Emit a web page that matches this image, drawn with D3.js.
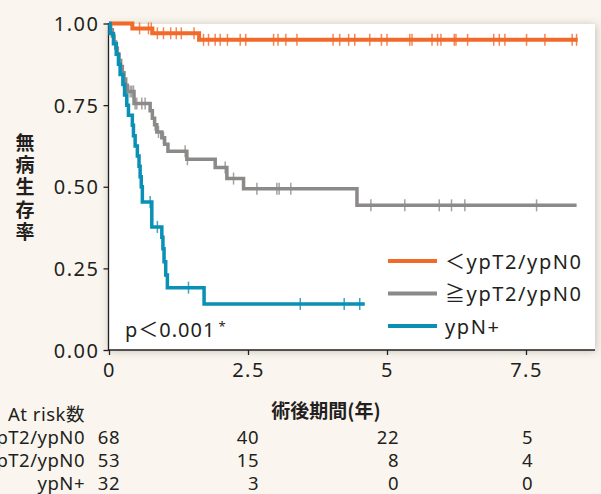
<!DOCTYPE html>
<html>
<head>
<meta charset="utf-8">
<script src="https://cdn.jsdelivr.net/npm/d3@7"></script>
<style>
  body { margin: 0; background: #faf6ef; }
  svg { display: block; }
  text { fill: #231f20; font-family: "Noto Sans", "Noto Sans CJK JP", sans-serif; }
  .cjk { font-family: "Noto Sans CJK JP", sans-serif; }
</style>
</head>
<body>
<svg width="601" height="494"></svg>
<script>
// survival steps: [years, survival]
const orangeSteps = [[0, 1], [0.42, 0.985], [0.78, 0.970], [1.62, 0.950], [8.43, 0.950]];
const graySteps = [[0, 1], [0.03, 0.981], [0.06, 0.962], [0.09, 0.943], [0.12, 0.925], [0.15, 0.906],
    [0.18, 0.887], [0.21, 0.868], [0.24, 0.849], [0.27, 0.830], [0.30, 0.811], [0.33, 0.792],
    [0.45, 0.755], [0.74, 0.733], [0.78, 0.710], [0.82, 0.690], [0.86, 0.668], [0.95, 0.650],
    [1.00, 0.630], [1.06, 0.609], [1.40, 0.584], [1.91, 0.559], [2.12, 0.525], [2.42, 0.494],
    [4.46, 0.443], [8.41, 0.443]];
const blueSteps = [[0, 1], [0.02, 0.969], [0.08, 0.938], [0.13, 0.906], [0.17, 0.875], [0.20, 0.844],
    [0.25, 0.813], [0.28, 0.781], [0.32, 0.750], [0.35, 0.719], [0.42, 0.688], [0.44, 0.656],
    [0.47, 0.625], [0.51, 0.594], [0.54, 0.563], [0.56, 0.531], [0.58, 0.500], [0.60, 0.453],
    [0.77, 0.377], [0.95, 0.345], [0.97, 0.310], [0.99, 0.270], [1.02, 0.230], [1.05, 0.191],
    [1.71, 0.141], [4.6, 0.141]];

// censored times (years)
const orangeCensor = [0.55, 0.71, 0.76, 0.87, 0.98, 1.11, 1.21, 1.30, 1.53, 1.70, 1.79, 1.91, 2.00,
    2.13, 2.36, 2.46, 2.96, 3.04, 3.18, 3.38, 4.03, 4.15, 4.31, 4.42, 4.69, 4.90, 5.00, 5.41, 5.45,
    5.81, 5.91, 5.97, 6.21, 6.24, 6.45, 6.92, 7.02, 7.12, 7.51, 7.84, 8.33, 8.41];
const grayCensor = [0.38, 0.41, 0.44, 0.47, 0.50, 0.59, 0.65, 0.83, 0.89, 0.98, 1.37, 1.41, 2.09,
    2.24, 2.66, 3.02, 3.06, 3.27, 4.71, 5.32, 5.94, 6.16, 6.40, 7.69];
const blueCensor = [0.74, 0.87, 1.43, 3.44, 4.23, 4.51];

const groupNames = ["＜ypT2/ypN0", "≧ypT2/ypN0", "ypN+"];
const groupColors = ["#f26a2a", "#8c8a88", "#0a8fb5"];

const xTicks = [0, 2.5, 5, 7.5];
const xTickLabels = ["0", "2.5", "5", "7.5"];
const yTicks = [0, 0.25, 0.5, 0.75, 1];

const riskTimes = [0, 2.5, 5, 7.5];
const riskOrange = [68, 40, 22, 5];
const riskGray = [53, 15, 8, 4];
const riskBlue = [32, 3, 0, 0];

const svg = d3.select("svg");

const x = d3.scaleLinear().domain([0, 7.5]).range([109, 526]);
const y = d3.scaleLinear().domain([0, 1]).range([350, 23.5]);

// panel with soft shadow
const defs = svg.append("defs");
const f = defs.append("filter").attr("id", "shadow")
    .attr("x", "-5%").attr("y", "-10%").attr("width", "110%").attr("height", "120%");
f.append("feDropShadow").attr("dx", 1).attr("dy", 1)
    .attr("stdDeviation", 4).attr("flood-color", "#5a5040").attr("flood-opacity", 0.35);

svg.append("rect")
    .attr("x", 108).attr("y", 24).attr("width", 487).attr("height", 326)
    .attr("fill", "#fff").attr("filter", "url(#shadow)");

// axes
const yAxis = svg.append("g").attr("transform", "translate(108.5,0)")
    .call(d3.axisLeft(y).tickValues(yTicks).tickFormat(d3.format(".2f")).tickSize(5).tickSizeOuter(0));
const xAxis = svg.append("g").attr("transform", "translate(0,350)")
    .call(d3.axisBottom(x).tickValues(xTicks).tickFormat((d, i) => xTickLabels[i]).tickSize(5).tickSizeOuter(0));

[yAxis, xAxis].forEach(g => {
    g.select(".domain").remove();
    g.selectAll("line").attr("stroke", "#231f20").attr("stroke-width", 1.3);
    g.selectAll("text").attr("fill", "#231f20").style("font-size", "20px")
        .style("font-family", "'Noto Sans', sans-serif").style("letter-spacing", "1.5px");
});
yAxis.selectAll("text").attr("x", -9).attr("dy", "0.36em");
xAxis.selectAll("text").attr("y", 11).attr("dy", "0.8em");

svg.append("line").attr("x1", 108.5).attr("x2", 108.5).attr("y1", 23).attr("y2", 350.5)
    .attr("stroke", "#231f20").attr("stroke-width", 1.3);
svg.append("line").attr("x1", 108).attr("x2", 595).attr("y1", 350).attr("y2", 350)
    .attr("stroke", "#231f20").attr("stroke-width", 1.3);

// curves
const line = d3.line().x(d => x(d[0])).y(d => y(d[1])).curve(d3.curveStepAfter);

function survAt(steps, t) {
    let v = steps[0][1];
    for (const s of steps) if (s[0] <= t) v = s[1];
    return v;
}

const series = [
    { steps: orangeSteps, censor: orangeCensor, color: groupColors[0], w: 4 },
    { steps: graySteps, censor: grayCensor, color: groupColors[1], w: 3.5 },
    { steps: blueSteps, censor: blueCensor, color: groupColors[2], w: 3.5 }
];

// draw gray first, then orange, blue on top
[series[1], series[0], series[2]].forEach(s => {
    const g = svg.append("g");
    g.append("path").attr("d", line(s.steps))
        .attr("fill", "none").attr("stroke", s.color).attr("stroke-width", s.w);
    g.selectAll("line").data(s.censor).join("line")
        .attr("x1", d => x(d)).attr("x2", d => x(d))
        .attr("y1", d => y(survAt(s.steps, d)) - 6)
        .attr("y2", d => y(survAt(s.steps, d)) + 6)
        .attr("stroke", s.color).attr("stroke-width", 1.5).attr("opacity", 0.8);
});

// legend
const leg = svg.append("g");
groupNames.forEach((name, i) => {
    const ly = 261 + i * 32.5;
    leg.append("line").attr("x1", 388).attr("x2", 437).attr("y1", ly).attr("y2", ly)
        .attr("stroke", groupColors[i]).attr("stroke-width", 4);
    leg.append("text").attr("x", 445).attr("y", ly + 7.5)
        .style("font-size", "20px").style("letter-spacing", "1.6px").text(name);
});

// p value
svg.append("text").attr("x", 125).attr("y", 337).style("font-size", "20px")
    .style("letter-spacing", "1px")
    .text("p＜0.001")
    .append("tspan").attr("dx", 3).attr("dy", -6).style("font-size", "13px").text("*");

// axis titles
svg.append("text").attr("class", "cjk").attr("x", 326).attr("y", 418)
    .attr("text-anchor", "middle").style("font-size", "19px").style("font-weight", "bold")
    .text("術後期間(年)");

svg.append("text").attr("class", "cjk").attr("x", 25).attr("y", 133)
    .style("writing-mode", "vertical-rl").style("font-size", "19px").style("font-weight", "bold")
    .style("letter-spacing", "3.3px")
    .text("無病生存率");

// at risk table
svg.append("text").attr("x", 85).attr("y", 421).attr("text-anchor", "end")
    .style("font-size", "18.5px").style("letter-spacing", "0.5px").text("At risk数");

const riskRows = [riskOrange, riskGray, riskBlue];
const riskRowLabels = ["<ypT2/ypN0", "≧ypT2/ypN0", "ypN+"];
const colOffset = [11, 11, 12, 7];
riskRows.forEach((row, r) => {
    const ry = 444 + r * 23;
    svg.append("text").attr("x", 85).attr("y", ry).attr("text-anchor", "end")
        .style("font-size", "18.5px").style("letter-spacing", "0.5px").text(riskRowLabels[r]);
    row.forEach((n, c) => {
        svg.append("text").attr("x", x(riskTimes[c]) + colOffset[c]).attr("y", ry)
            .attr("text-anchor", "end").style("font-size", "18.5px").style("letter-spacing", "0.5px")
            .text(n);
    });
});
</script>
</body>
</html>
